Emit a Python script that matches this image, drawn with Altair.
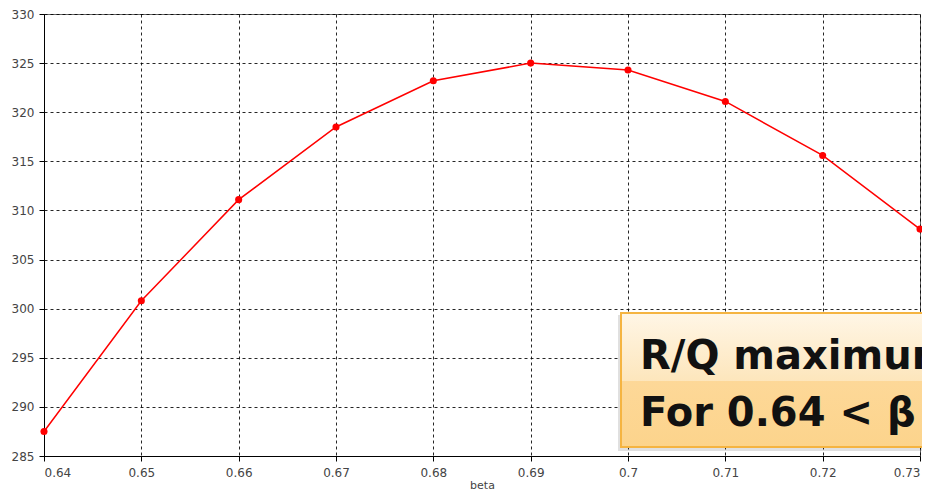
import altair as alt
import pandas as pd

beta = [0.64, 0.65, 0.66, 0.67, 0.68, 0.69, 0.70, 0.71, 0.72, 0.73]
rq = [287.5, 300.8, 311.1, 318.5, 323.2, 325.0, 324.3, 321.1, 315.6, 308.1]
x_ticks = [0.64, 0.65, 0.66, 0.67, 0.68, 0.69, 0.70, 0.71, 0.72, 0.73]
y_ticks = [285, 290, 295, 300, 305, 310, 315, 320, 325, 330]
note_lines = ["R/Q maximum", "For 0.64 < \u03b2"]

df = pd.DataFrame({"beta": beta, "rq": rq})

W, H = 876, 442

xs = alt.X("beta:Q", title="beta",
           scale=alt.Scale(domain=[0.64, 0.73], nice=False, zero=False),
           axis=alt.Axis(values=x_ticks, format=".2~f", grid=True))
ys = alt.Y("rq:Q", title=None,
           scale=alt.Scale(domain=[285, 330], nice=False, zero=False),
           axis=alt.Axis(values=y_ticks, grid=True))

line = alt.Chart(df).mark_line(color="#ff0000", strokeWidth=1.5).encode(x=xs, y=ys)
pts = alt.Chart(df).mark_circle(color="#ff0000", opacity=1, size=50).encode(x=xs, y=ys)

one = pd.DataFrame({"k": [0]})
shadow = alt.Chart(one).mark_rect(color="#000000", opacity=0.12).encode(
    x=alt.value(574), x2=alt.value(900), y=alt.value(301), y2=alt.value(437))
box_top = alt.Chart(one).mark_rect(
    fill=alt.Gradient(gradient="linear",
                      stops=[alt.GradientStop(color="#fff6e6", offset=0),
                             alt.GradientStop(color="#fde6bc", offset=1)],
                      x1=0, x2=0, y1=0, y2=1)
).encode(x=alt.value(577), x2=alt.value(900), y=alt.value(299), y2=alt.value(367))
box_bot = alt.Chart(one).mark_rect(
    fill=alt.Gradient(gradient="linear",
                      stops=[alt.GradientStop(color="#fdd898", offset=0),
                             alt.GradientStop(color="#fcd48c", offset=1)],
                      x1=0, x2=0, y1=0, y2=1)
).encode(x=alt.value(577), x2=alt.value(900), y=alt.value(367), y2=alt.value(433))
box_border = alt.Chart(one).mark_rect(fill=None, stroke="#f5b441", strokeWidth=2).encode(
    x=alt.value(577), x2=alt.value(905), y=alt.value(299), y2=alt.value(433))

tdf = pd.DataFrame({"t": note_lines, "yy": [355, 412]})
note = alt.Chart(tdf).mark_text(
    font="DejaVu Sans", fontWeight="bold", fontSize=40, align="left",
    baseline="alphabetic", color="#111111"
).encode(text="t:N", x=alt.value(596), y=alt.Y("yy:Q", scale=None))

chart = alt.layer(line, pts, shadow, box_top, box_bot, box_border, note).properties(
    width=W, height=H,
    autosize=alt.AutoSizeParams(type="none"),
    padding={"left": 36, "top": 6, "right": 2, "bottom": 36},
    background="#ffffff",
).configure_view(stroke="#666666", strokeWidth=1).configure_axis(
    labelFont="DejaVu Sans", labelFontSize=12, labelColor="#444444",
    titleFont="DejaVu Sans", titleFontSize=11, titleFontWeight="normal", titleColor="#444444",
    domainColor="#000000", domainWidth=1,
    tickColor="#000000", tickSize=5, tickWidth=1,
    gridColor="#000000", gridDash=[3, 3], gridOpacity=0.85, gridWidth=1,
    labelPadding=5,
).configure_axisX(titlePadding=1, labelPadding=6)

chart.save("out.html", embed_options={"renderer": "svg", "actions": False})
